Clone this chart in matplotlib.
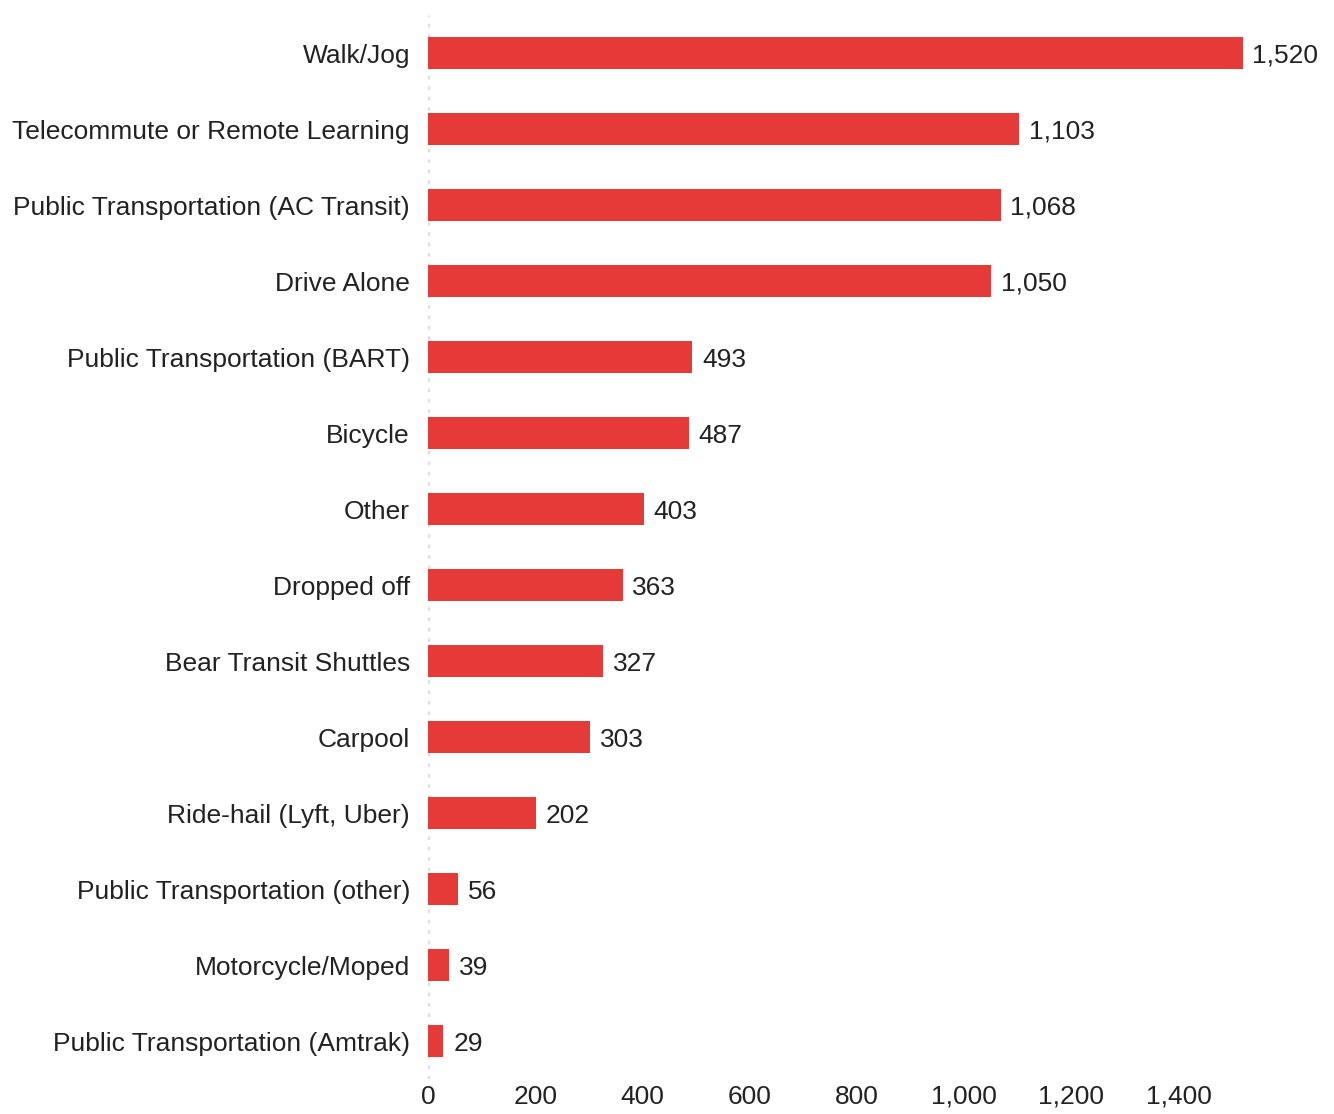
import numpy as np
import matplotlib
matplotlib.use('Agg')
import matplotlib.pyplot as plt

categories = ['Walk/Jog', 'Telecommute or Remote Learning', 'Public Transportation (AC Transit)',
              'Drive Alone', 'Public Transportation (BART)', 'Bicycle', 'Other', 'Dropped off',
              'Bear Transit Shuttles', 'Carpool', 'Ride-hail (Lyft, Uber)',
              'Public Transportation (other)', 'Motorcycle/Moped', 'Public Transportation (Amtrak)']
values = [1520, 1103, 1068, 1050, 493, 487, 403, 363, 327, 303, 202, 56, 39, 29]
xticks = [0, 200, 400, 600, 800, 1000, 1200, 1400]

plt.rcParams['font.family'] = ['Liberation Sans', 'DejaVu Sans']
text_color = '#222222'
bar_color = '#e53a37'
fs = 19

fig = plt.figure(figsize=(13.34, 11.14), dpi=100)
ax = fig.add_axes([0.3208, 0.0314, 0.643, 0.9551])

y = np.arange(len(categories))
ax.barh(y, values, height=0.42, color=bar_color, zorder=2)
ax.axvline(0, color='#dddddd', linestyle=(0, (1, 2)), linewidth=2.5, zorder=1)

for yi, v in zip(y, values):
    ax.text(v + 18, yi, f'{v:,}', va='center_baseline', ha='left', fontsize=fs, color=text_color)

ax.set_ylim(len(categories) - 0.5, -0.5)
ax.set_xlim(0, 1600)
ax.set_yticks(y)
ax.set_yticklabels(categories, fontsize=fs, color=text_color, va='center_baseline')
ax.set_xticks(xticks)
ax.set_xticklabels([f'{t:,}' for t in xticks], fontsize=fs, color=text_color)
ax.tick_params(axis='y', length=0, pad=13)
ax.tick_params(axis='x', length=0, pad=4)
for s in ax.spines.values():
    s.set_visible(False)

fig.savefig('out.png', dpi=100)
